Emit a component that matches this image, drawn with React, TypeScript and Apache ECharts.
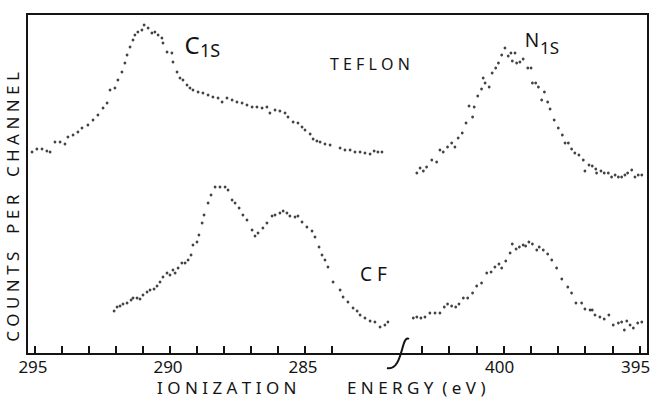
import React, { useEffect, useRef } from "react";
import * as echarts from "echarts";

// ---- Data (ionization energy in eV, counts per channel in arbitrary units) ----
const teflonC_E = [295.11, 294.93, 294.74, 294.56, 294.44, 294.26, 294.07, 293.89, 293.78, 293.59, 293.41, 293.26, 293.04, 292.85, 292.67, 292.48, 292.33, 292.22, 292.04, 291.93, 291.78, 291.67, 291.59, 291.48, 291.37, 291.3, 291.19, 291.04, 290.96, 290.81, 290.67, 290.56, 290.44, 290.3, 290.26, 290.11, 289.93, 289.89, 289.74, 289.63, 289.52, 289.37, 289.26, 289.15, 288.96, 288.78, 288.59, 288.41, 288.22, 288.07, 287.89, 287.7, 287.52, 287.33, 287.15, 286.96, 286.78, 286.59, 286.41, 286.3, 286.11, 285.93, 285.74, 285.63, 285.44, 285.26, 285.11, 285.0, 284.81, 284.7, 284.56, 284.44, 284.26, 284.07, 283.7, 283.52, 283.33, 283.15, 282.96, 282.78, 282.59, 282.44, 282.3, 282.15];
const teflonC_N = [202, 205, 205, 203, 202, 212, 212, 210, 217, 219, 222, 226, 229, 234, 239, 246, 251, 264, 266, 274, 282, 291, 299, 307, 314, 319, 322, 324, 329, 326, 321, 322, 319, 316, 311, 302, 301, 292, 282, 276, 274, 269, 266, 264, 262, 261, 259, 257, 256, 252, 256, 254, 252, 251, 249, 247, 247, 246, 247, 241, 244, 243, 241, 237, 232, 231, 227, 224, 220, 215, 213, 212, 210, 209, 206, 204, 204, 202, 202, 201, 200, 203, 202, 202];

const cfC_E = [292.07, 291.96, 291.85, 291.74, 291.59, 291.44, 291.37, 291.22, 291.11, 291.0, 290.85, 290.74, 290.59, 290.48, 290.37, 290.26, 290.11, 290.0, 289.89, 289.81, 289.7, 289.56, 289.44, 289.33, 289.22, 289.15, 289.0, 288.93, 288.81, 288.74, 288.59, 288.48, 288.33, 288.15, 287.96, 287.85, 287.7, 287.59, 287.44, 287.3, 287.15, 286.96, 286.85, 286.74, 286.56, 286.41, 286.22, 286.11, 285.93, 285.81, 285.67, 285.56, 285.37, 285.26, 285.11, 284.93, 284.74, 284.63, 284.48, 284.37, 284.26, 284.15, 283.96, 283.7, 283.59, 283.41, 283.22, 283.07, 282.96, 282.78, 282.59, 282.41, 282.22, 282.04, 281.93];
const cfC_N = [43, 47, 48, 50, 51, 54, 56, 56, 55, 59, 62, 64, 65, 68, 72, 77, 81, 79, 84, 81, 86, 91, 91, 94, 99, 109, 112, 119, 131, 139, 151, 159, 167, 167, 167, 164, 154, 151, 146, 139, 134, 124, 118, 121, 126, 131, 138, 139, 141, 143, 141, 138, 137, 138, 132, 127, 123, 117, 107, 99, 94, 87, 72, 64, 57, 52, 46, 43, 39, 36, 33, 32, 27, 29, 32];

const teflonN_E = [403.19, 403.07, 402.95, 402.83, 402.64, 402.46, 402.34, 402.22, 402.06, 401.91, 401.79, 401.67, 401.52, 401.38, 401.27, 401.14, 401.08, 400.95, 400.81, 400.75, 400.68, 400.53, 400.42, 400.29, 400.19, 400.07, 399.95, 399.83, 399.73, 399.68, 399.58, 399.52, 399.4, 399.28, 399.11, 398.99, 398.94, 398.82, 398.72, 398.6, 398.5, 398.38, 398.29, 398.14, 397.99, 397.84, 397.74, 397.62, 397.5, 397.38, 397.23, 397.07, 397.01, 396.86, 396.74, 396.61, 396.58, 396.42, 396.3, 396.15, 396.03, 395.9, 395.78, 395.66, 395.54, 395.44, 395.29, 395.17, 395.05, 394.92];
const teflonN_N = [181, 186, 183, 187, 194, 192, 204, 202, 207, 211, 207, 216, 221, 231, 248, 237, 247, 258, 265, 276, 271, 267, 281, 286, 291, 299, 306, 298, 301, 293, 301, 291, 292, 295, 286, 286, 271, 271, 267, 254, 262, 252, 245, 234, 226, 219, 211, 211, 205, 201, 199, 194, 183, 189, 188, 185, 181, 183, 181, 181, 177, 179, 177, 177, 179, 181, 184, 177, 179, 179];

const cfN_E = [403.32, 403.19, 403.04, 402.89, 402.71, 402.52, 402.34, 402.18, 402.06, 401.91, 401.76, 401.64, 401.48, 401.32, 401.14, 400.99, 400.81, 400.62, 400.46, 400.32, 400.17, 400.07, 399.92, 399.76, 399.68, 399.54, 399.42, 399.28, 399.19, 399.07, 398.94, 398.78, 398.69, 398.54, 398.38, 398.23, 398.05, 397.86, 397.64, 397.5, 397.34, 397.13, 397.01, 396.82, 396.74, 396.64, 396.46, 396.3, 396.13, 395.97, 395.78, 395.66, 395.56, 395.47, 395.35, 395.23, 395.07, 394.92];
const cfN_N = [36, 37, 36, 37, 41, 41, 41, 47, 50, 48, 47, 50, 56, 56, 61, 68, 71, 81, 82, 87, 90, 86, 93, 101, 110, 105, 107, 109, 108, 112, 110, 104, 107, 104, 100, 94, 86, 75, 67, 61, 51, 51, 45, 44, 44, 39, 37, 35, 39, 29, 31, 32, 24, 33, 29, 26, 31, 32];

const cTicks = [295, 294, 293, 292, 291, 290, 289, 288, 287, 286, 285, 284];
const cLabels = [295, 290, 285];
const nTicks = [403, 402, 401, 400, 399, 398, 397, 396, 395];
const nLabels = [400, 395];

const INK = "#141414";
const FONT = "Noto Sans";

const zip = (xs: number[], ys: number[]) => xs.map((x, i) => [x, ys[i]]);

export default function App() {
  const ref = useRef<HTMLDivElement>(null);
  useEffect(() => {
    if (!ref.current) return;
    const chart = echarts.init(ref.current, undefined, { renderer: "svg" });
    const labelBase = {
      color: INK,
      fontSize: 17,
      fontFamily: FONT,
      margin: 4,
      padding: [0, 8, 0, 0],
      showMinLabel: true,
      showMaxLabel: true,
    };
    const xAxisCommon = {
      type: "value",
      inverse: true,
      splitLine: { show: false },
      axisLine: { show: true, lineStyle: { color: INK, width: 2 } },
    };
    const yAxisCommon = { type: "value", min: 0, max: 340, show: false };
    const scatter = (idx: number, data: number[][]) => ({
      type: "scatter",
      xAxisIndex: idx,
      yAxisIndex: idx,
      data,
      symbol: "circle",
      symbolSize: 2.8,
      itemStyle: { color: INK },
      silent: true,
    });
    chart.setOption({
      animation: false,
      backgroundColor: "#ffffff",
      grid: [
        { left: 27, top: 14, width: 371, height: 340, containLabel: false, outerBoundsMode: "none" },
        { left: 398, top: 14, width: 250, height: 340, containLabel: false, outerBoundsMode: "none" },
      ],
      xAxis: [
        {
          ...xAxisCommon,
          gridIndex: 0,
          min: 281.556,
          max: 295.296,
          axisTick: { show: true, inside: true, length: 8, lineStyle: { color: INK, width: 2 }, customValues: cTicks },
          axisLabel: { ...labelBase, padding: [0, 4, 0, 0], customValues: cLabels },
        },
        {
          ...xAxisCommon,
          gridIndex: 1,
          min: 394.691,
          max: 403.882,
          axisTick: { show: true, inside: true, length: 8, lineStyle: { color: INK, width: 2 }, customValues: nTicks },
          axisLabel: { ...labelBase, customValues: nLabels },
        },
      ],
      yAxis: [
        { ...yAxisCommon, gridIndex: 0 },
        { ...yAxisCommon, gridIndex: 1 },
      ],
      series: [
        scatter(0, zip(teflonC_E, teflonC_N)),
        scatter(0, zip(cfC_E, cfC_N)),
        scatter(1, zip(teflonN_E, teflonN_N)),
        scatter(1, zip(cfN_E, cfN_N)),
      ],
      graphic: [
        {
          type: "rect",
          shape: { x: 27, y: 14, width: 621, height: 340 },
          style: { fill: "none", stroke: INK, lineWidth: 2 },
          silent: true,
        },
        {
          type: "bezierCurve",
          shape: { x1: 409, y1: 339, cpx1: 401, cpy1: 334, cpx2: 403, cpy2: 372, x2: 387, y2: 368 },
          style: { fill: "none", stroke: INK, lineWidth: 2 },
          silent: true,
        },
        { type: "text", x: 192, y: 44, style: { text: "C", fontSize: 24, fontFamily: FONT, fill: INK, align: "center", verticalAlign: "middle" } },
        { type: "text", x: 200, y: 50, style: { text: "1S", fontSize: 18, fontFamily: FONT, fill: INK, align: "left", verticalAlign: "middle" } },
        { type: "text", x: 330, y: 64, style: { text: "T E F L O N", fontSize: 16, fontFamily: FONT, fill: INK, align: "left", verticalAlign: "middle" } },
        { type: "text", x: 532, y: 40, style: { text: "N", fontSize: 19, fontFamily: FONT, fill: INK, align: "center", verticalAlign: "middle" } },
        { type: "text", x: 540, y: 47, style: { text: "1S", fontSize: 17, fontFamily: FONT, fill: INK, align: "left", verticalAlign: "middle" } },
        { type: "text", x: 360, y: 274, style: { text: "C F", fontSize: 19, fontFamily: FONT, fill: INK, align: "left", verticalAlign: "middle" } },
        {
          type: "text",
          x: 12,
          y: 207,
          rotation: Math.PI / 2,
          style: { text: "C O U N T S    P E R    C H A N N E L", fontSize: 17, fontFamily: FONT, fill: INK, align: "center", verticalAlign: "middle" },
        },
        { type: "text", x: 157, y: 387, style: { text: "I O N I Z A T I O N", fontSize: 17, fontFamily: FONT, fill: INK, align: "left", verticalAlign: "middle" } },
        { type: "text", x: 347, y: 387, style: { text: "E N E R G Y  ( e V )", fontSize: 17, fontFamily: FONT, fill: INK, align: "left", verticalAlign: "middle" } },
      ],
    });
    return () => chart.dispose();
  }, []);
  return <div ref={ref} style={{ position: "fixed", left: 0, top: 0, width: 653, height: 399 }} />;
}
